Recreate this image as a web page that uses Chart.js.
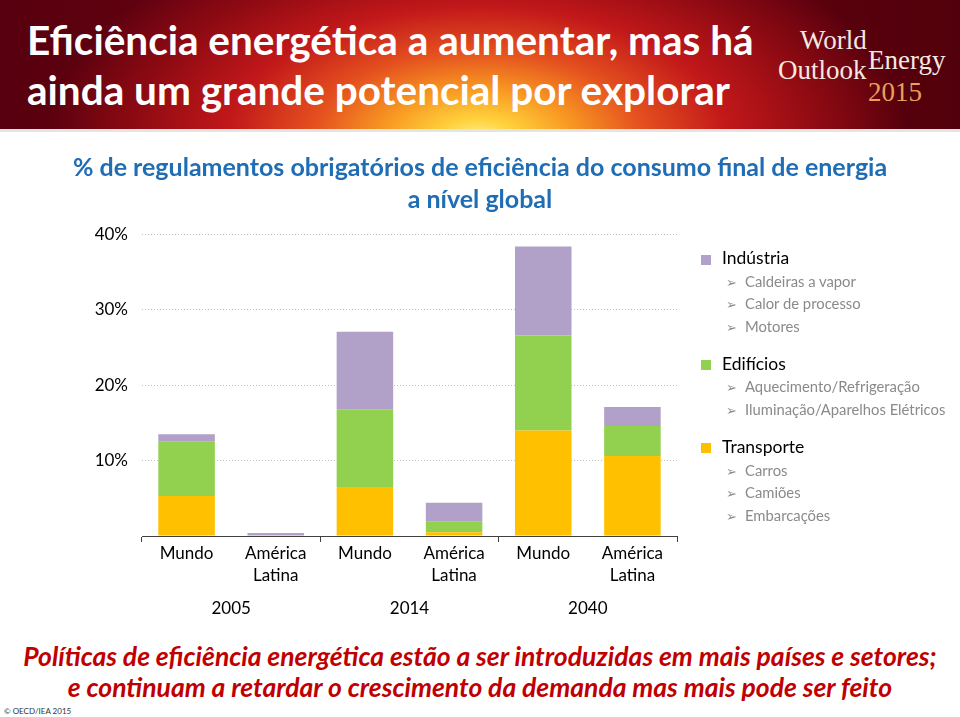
<!DOCTYPE html>
<html lang="pt">
<head>
<meta charset="utf-8">
<title>Eficiência energética</title>
<script src="https://cdn.jsdelivr.net/npm/chart.js@4.4.1/dist/chart.umd.min.js"></script>
<style>
  body { margin: 0; width: 960px; height: 717px; position: relative; background: #fff; font-family: Lato, sans-serif; overflow: hidden; }
  #header {
    position: absolute; left: 0; top: 0; width: 960px; height: 129px;
    background:
      radial-gradient(ellipse 430px 230px at 478px 140px, #fff6a0 0%, #ffd23c 9%, #f89a22 22%, #e5521f 38%, #c2181a 58%, #8e0a12 80%, rgba(96,0,12,0) 100%),
      linear-gradient(90deg, #58000f 0%, #6c0412 45%, #5e0210 75%, #52000b 100%);
    border-bottom: 3px solid #e4e4e4;
  }
  #mainTitle { position: absolute; left: 27px; top: 15px; margin: 0; color: #fff; font-weight: bold; font-size: 40.5px; line-height: 50px; }
  .logo { position: absolute; font-family: "Liberation Serif", serif; font-size: 27px; line-height: 1; color: #f2e9e2; }
  #chartBox { position: absolute; left: 0; top: 140px; width: 960px; height: 495px; }
  #legend { position: absolute; left: 701px; top: 247px; }
  .grp { margin-bottom: 15px; }
  .row { height: 22.7px; line-height: 22.7px; white-space: nowrap; }
  .head { font-size: 17.5px; color: #000; }
  .sw { display: inline-block; width: 10px; height: 10px; margin-right: 11px; vertical-align: -0.5px; }
  .sub { font-size: 14.8px; color: #8a8a8a; padding-left: 25px; }
  .arr { display: inline-block; width: 19px; font-family: "DejaVu Sans", sans-serif; font-size: 13px; color: #8a8a8a; }
  #footer { position: absolute; left: 0; top: 641px; width: 960px; text-align: center; color: #c00000; font-weight: bold; font-style: italic; font-size: 26.5px; line-height: 31px; }
  #copy { position: absolute; left: 4px; top: 706px; font-size: 8px; color: #333; }
</style>
</head>
<body>
<div id="header">
  <h1 id="mainTitle">Eficiência energética a aumentar, mas há<br>ainda um grande potencial por explorar</h1>
  <div class="logo" style="left:800px;top:27px;">World</div>
  <div class="logo" style="left:868px;top:47px;">Energy</div>
  <div class="logo" style="left:778px;top:57px;">Outlook</div>
  <div class="logo" style="left:868px;top:79px;color:#e9a05a;">2015</div>
</div>

<div id="chartBox"><canvas id="chart"></canvas></div>
<div id="legend"></div>

<div id="footer">Políticas de eficiência energética estão a ser introduzidas em mais países e setores;<br>e continuam a retardar o crescimento da demanda mas mais pode ser feito</div>
<div id="copy">© OECD/IEA 2015</div>

<script>
// categorias (duas barras por ano)
const categories = [['Mundo'], ['América', 'Latina'], ['Mundo'], ['América', 'Latina'], ['Mundo'], ['América', 'Latina']];
const years = ['2005', '2014', '2040'];

// % do consumo final coberto por regulamentos obrigatórios
const transporte = [5.3, 0, 6.5, 0.5, 14.0, 10.6];
const edificios = [7.2, 0, 10.3, 1.4, 12.6, 4.0];
const industria = [1.0, 0.4, 10.3, 2.5, 11.8, 2.5];

const yTicks = [0, 10, 20, 30, 40];

const subItems = {
    'Indústria': ['Caldeiras a vapor', 'Calor de processo', 'Motores'],
    'Edifícios': ['Aquecimento/Refrigeração', 'Iluminação/Aparelhos Elétricos'],
    'Transporte': ['Carros', 'Camiões', 'Embarcações']
};

const datasets = [
    { label: 'Transporte', data: transporte, backgroundColor: '#FFC000' },
    { label: 'Edifícios', data: edificios, backgroundColor: '#92D050' },
    { label: 'Indústria', data: industria, backgroundColor: '#B1A0C7' }
];

const yearLabels = {
    id: 'yearLabels',
    afterDraw(chart) {
        const x = chart.scales.x;
        const ctx = chart.ctx;
        ctx.save();
        ctx.font = '17px Lato';
        ctx.fillStyle = '#000';
        ctx.textAlign = 'center';
        ctx.textBaseline = 'middle';
        years.forEach((yr, i) => {
            const cx = (x.getPixelForValue(2 * i) + x.getPixelForValue(2 * i + 1)) / 2;
            ctx.fillText(yr, cx, x.bottom - 26);
        });
        ctx.restore();
    }
};

new Chart(document.getElementById('chart'), {
    type: 'bar',
    data: {
        labels: categories,
        datasets: datasets.map(d => ({ ...d, barPercentage: 0.634, categoryPercentage: 1 }))
    },
    options: {
        responsive: true,
        maintainAspectRatio: false,
        animation: false,
        layout: { padding: 0 },
        plugins: {
            legend: { display: false },
            tooltip: { enabled: false },
            title: {
                display: true,
                text: ['% de regulamentos obrigatórios de eficiência do consumo final de energia', 'a nível global'],
                color: '#1F6DB4',
                font: { family: 'Lato', size: 25, weight: 'bold', lineHeight: 1.29 },
                padding: { top: 12, bottom: 18 }
            }
        },
        scales: {
            x: {
                stacked: true,
                grid: {
                    offset: true,
                    drawOnChartArea: false,
                    drawTicks: true,
                    tickLength: 6,
                    color: c => (c.index === undefined || c.index % 2 === 0) ? '#404040' : 'rgba(0,0,0,0)'
                },
                border: { display: true, color: '#404040', width: 1 },
                ticks: { color: '#000', font: { family: 'Lato', size: 17, lineHeight: 1.27 }, padding: 1, maxRotation: 0, autoSkip: false },
                afterFit(s) { s.height = 99; }
            },
            y: {
                stacked: true,
                min: 0,
                max: 40,
                afterBuildTicks(s) { s.ticks = yTicks.map(v => ({ value: v })); },
                grid: { color: '#BFBFBF', drawTicks: false, lineWidth: 1 },
                border: { display: false, dash: [1, 2] },
                ticks: { color: '#000', font: { family: 'Lato', size: 17 }, padding: 14, callback: v => v === 0 ? '' : v + '%' },
                afterFit(s) { s.width = 142; }
            },
            pad: {
                type: 'linear',
                position: 'right',
                display: true,
                grid: { display: false },
                border: { display: false },
                ticks: { display: false },
                afterFit(s) { s.width = 283; }
            }
        }
    },
    plugins: [yearLabels]
});

// legenda com subitens
const legend = document.getElementById('legend');
datasets.slice().reverse().forEach(d => {
    const g = document.createElement('div');
    g.className = 'grp';
    g.innerHTML = '<div class="row head"><span class="sw" style="background:' + d.backgroundColor + '"></span>' + d.label + '</div>' +
        subItems[d.label].map(s => '<div class="row sub"><span class="arr">➢</span>' + s + '</div>').join('');
    legend.appendChild(g);
});
</script>
</body>
</html>
